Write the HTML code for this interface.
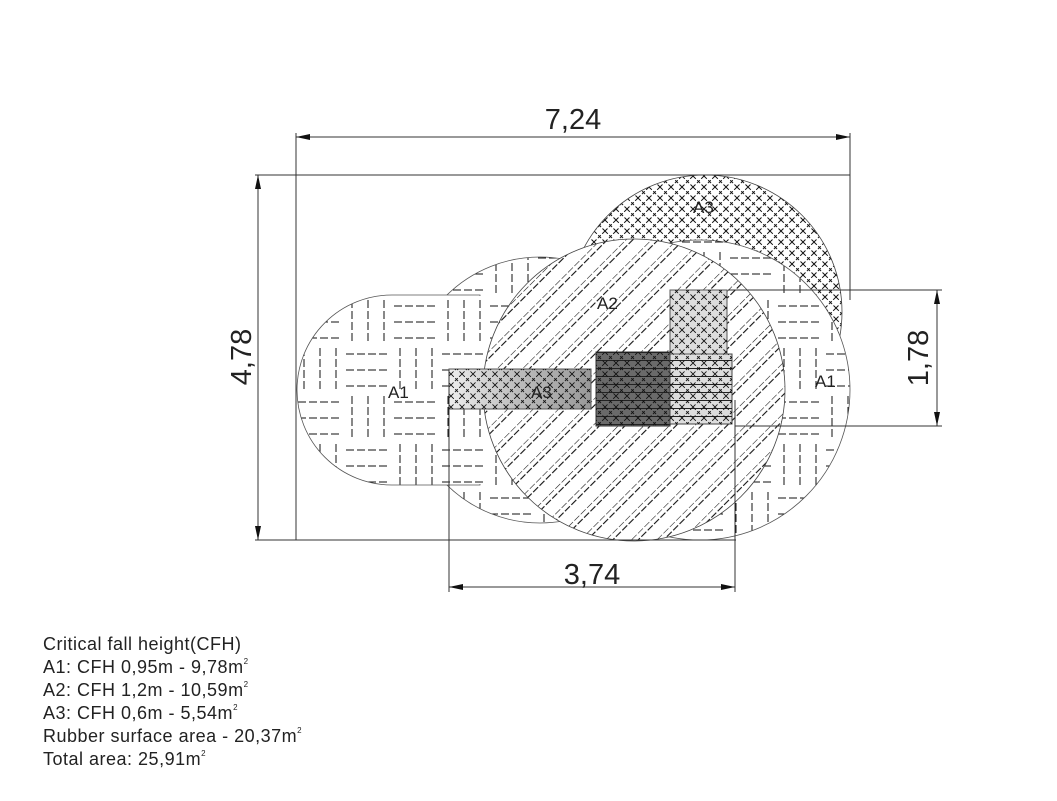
<!DOCTYPE html>
<html><head><meta charset="utf-8"><style>
body{margin:0;background:#fff;width:1057px;height:801px;overflow:hidden;font-family:"Liberation Sans",sans-serif}
.leg{position:absolute;left:43px;top:633px;font-size:18px;line-height:23px;color:#222;letter-spacing:0.5px}
.leg sup{font-size:8px;line-height:0;vertical-align:9px}
</style></head><body>
<svg width="1057" height="801" style="position:absolute;left:0;top:0" xmlns="http://www.w3.org/2000/svg">
<defs>
<pattern id="a1" width="96" height="96" patternUnits="userSpaceOnUse" x="8" y="10">
<rect width="96" height="96" fill="#fff"/>
<g stroke="#111" stroke-width="1" stroke-dasharray="8,3" fill="none">
<path d="M2 8H46M2 24H46M2 40H46"/>
<path d="M56 2V46M72 2V46M88 2V46"/>
<path d="M8 50V94M24 50V94M40 50V94"/>
<path d="M50 56H94M50 72H94M50 88H94"/>
</g></pattern>
<pattern id="a2" width="18" height="18" patternUnits="userSpaceOnUse" patternTransform="rotate(45)">
<rect width="18" height="18" fill="#fff"/>
<path d="M0 0V18" stroke="#111" stroke-width="1.1" stroke-dasharray="7,2"/>
<path d="M5 0V18" stroke="#111" stroke-width="1.1" stroke-dasharray="7,2"/>
</pattern>
<pattern id="a3" width="11" height="11" patternUnits="userSpaceOnUse">
<rect width="11" height="11" fill="#fff"/>
<path d="M0 0L11 11M11 0L0 11" stroke="#111" stroke-width="1" stroke-dasharray="4,2"/>
</pattern>
<pattern id="x3" width="11" height="11" patternUnits="userSpaceOnUse">
<path d="M0 0L11 11M11 0L0 11" stroke="#111" stroke-width="0.9" stroke-dasharray="4,2"/>
</pattern>
<linearGradient id="sg" x1="0" x2="1"><stop offset="0" stop-color="#eee"/><stop offset=".5" stop-color="#bbb"/><stop offset="1" stop-color="#999"/></linearGradient>
<pattern id="hl" width="10" height="8" patternUnits="userSpaceOnUse"><path d="M0 0.5H10" stroke="#222" stroke-width="1"/></pattern>
</defs>
<circle cx="705" cy="312" r="137" fill="url(#a3)" stroke="#444" stroke-width="0.8"/>
<circle cx="700" cy="390" r="150" fill="url(#a1)" stroke="#555" stroke-width="0.8"/>
<circle cx="540" cy="390" r="133" fill="url(#a1)" stroke="#555" stroke-width="0.8"/>
<path d="M392 295H480V485H392A95 95 0 0 1 392 295Z" fill="url(#a1)" stroke="#555" stroke-width="0.8"/>
<path d="M440 296H500V484H440Z" fill="url(#a1)"/>
<circle cx="634" cy="390" r="151" fill="url(#a2)" stroke="#444" stroke-width="0.8"/>
<rect x="449" y="369" width="142" height="40" fill="url(#sg)" stroke="#555"/>
<rect x="449" y="369" width="142" height="40" fill="url(#x3)"/>
<rect x="596" y="352" width="74" height="74" fill="#6a6a6a" stroke="#333"/>
<rect x="596" y="352" width="74" height="74" fill="url(#hl)"/>
<rect x="596" y="352" width="74" height="74" fill="url(#x3)"/>
<rect x="670" y="354" width="62" height="70" fill="#ddd" stroke="#444"/>
<rect x="670" y="354" width="62" height="70" fill="url(#hl)"/>
<rect x="670" y="354" width="62" height="70" fill="url(#x3)"/>
<rect x="670" y="290" width="57" height="64" fill="#ddd" stroke="#555"/>
<rect x="670" y="290" width="57" height="64" fill="url(#x3)"/>
<g font-family="Liberation Sans,sans-serif" font-size="17" fill="#222">
<text x="388" y="398">A1</text><text x="815" y="387">A1</text>
<text x="597" y="309">A2</text><text x="531" y="398">A3</text><text x="693" y="213">A3</text>
</g>
<g stroke="#333" stroke-width="1" fill="none">
<path d="M296 133V540M850 133V300M296 137H850"/>
<path d="M255 175H850M255 540H736M258 175V540"/>
<path d="M728 290H942M735 426H942M937 290V426"/>
<path d="M449 370V592M735 400V592M449 587H735"/>
</g>
<g fill="#111">
<path d="M296 137l14-3v6z M850 137l-14-3v6z"/>
<path d="M258 175l-3 14h6z M258 540l-3-14h6z"/>
<path d="M937 290l-3 14h6z M937 426l-3-14h6z"/>
<path d="M449 587l14-3v6z M735 587l-14-3v6z"/>
</g>
<g font-family="Liberation Sans,sans-serif" font-size="29" fill="#222" text-anchor="middle">
<text x="573" y="129">7,24</text>
<text x="592" y="584">3,74</text>
<text transform="translate(251,357) rotate(-90)">4,78</text>
<text transform="translate(928,358) rotate(-90)">1,78</text>
</g>
</svg>
<div class="leg">Critical fall height(CFH)<br>A1: CFH 0,95m - 9,78m<sup>2</sup><br>A2: CFH 1,2m - 10,59m<sup>2</sup><br>A3: CFH 0,6m - 5,54m<sup>2</sup><br>Rubber surface area - 20,37m<sup>2</sup><br>Total area: 25,91m<sup>2</sup></div>
</body></html>
